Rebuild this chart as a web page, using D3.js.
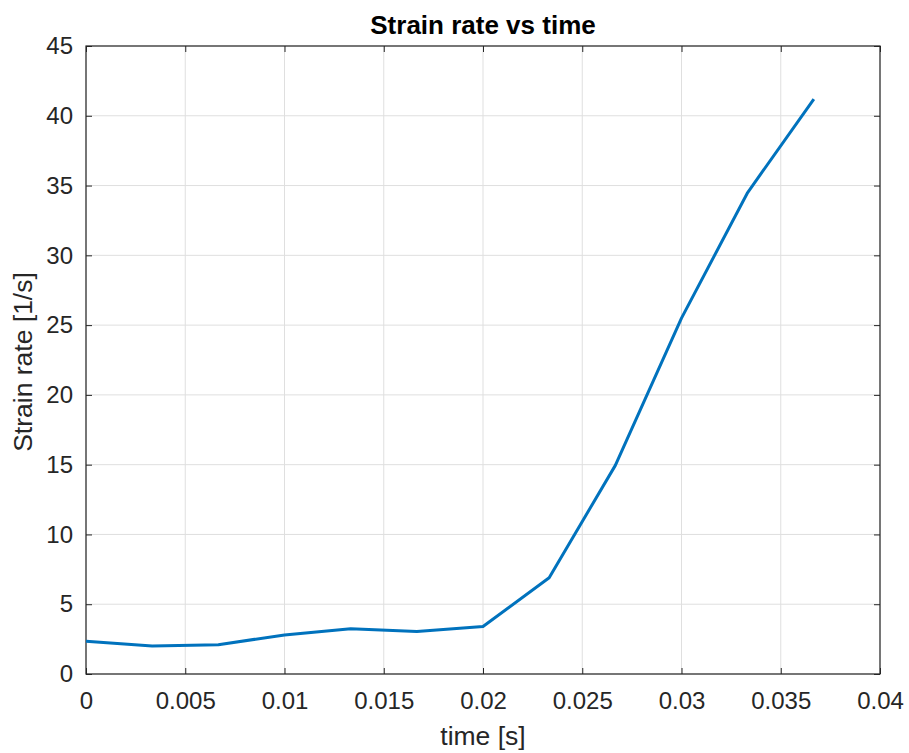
<!DOCTYPE html>
<html>
<head>
<meta charset="utf-8">
<script src="https://cdn.jsdelivr.net/npm/d3@7"></script>
<style>
  body { margin: 0; background: #fff; }
  text { font-family: "Liberation Sans", Arial, sans-serif; fill: #262626; }
</style>
</head>
<body>
<div id="chart"></div>
<script>
// time samples [s] and strain rate [1/s]
const times = [0, 0.003333, 0.006667, 0.01, 0.013333, 0.016667, 0.02, 0.023333, 0.026667, 0.03, 0.033333, 0.036667];
const strainRates = [2.35, 2.0, 2.1, 2.8, 3.25, 3.05, 3.4, 6.9, 14.95, 25.5, 34.5, 41.2];
const xTicks = [0, 0.005, 0.01, 0.015, 0.02, 0.025, 0.03, 0.035, 0.04];
const yTicks = [0, 5, 10, 15, 20, 25, 30, 35, 40, 45];

function drawStrainRate(containerId) {
  const W = 909, H = 753;
  const margin = { top: 46, right: 29, bottom: 79, left: 86 },
        width = W - margin.left - margin.right,
        height = H - margin.top - margin.bottom;

  const svg = d3.select(`#${containerId}`)
      .append("svg")
          .attr("width", W)
          .attr("height", H)
      .append("g")
          .attr("transform", `translate(${margin.left},${margin.top})`);

  const x = d3.scaleLinear().domain([0, 0.04]).range([0, width]);
  const y = d3.scaleLinear().domain([0, 45]).range([height, 0]);

  // grid
  svg.append("g")
      .selectAll("line")
      .data(xTicks)
      .join("line")
          .attr("x1", d => x(d)).attr("x2", d => x(d))
          .attr("y1", 0).attr("y2", height)
          .attr("stroke", "#dfdfdf").attr("stroke-width", 1);
  svg.append("g")
      .selectAll("line")
      .data(yTicks)
      .join("line")
          .attr("x1", 0).attr("x2", width)
          .attr("y1", d => y(d)).attr("y2", d => y(d))
          .attr("stroke", "#dfdfdf").attr("stroke-width", 1);

  const fmt = d => String(+d.toFixed(3));
  const tickLen = 6;

  // axes (ticks point inward, mirrored on top and right)
  const styleAxis = g => {
    g.select(".domain").remove();
    g.selectAll("line").attr("stroke", "#262626");
    g.selectAll("text").style("font-size", "24px").attr("fill", "#262626");
  };

  svg.append("g")
      .attr("transform", `translate(0,${height})`)
      .call(d3.axisBottom(x).tickValues(xTicks).tickFormat(fmt).tickSizeInner(-tickLen).tickPadding(18))
      .call(styleAxis);
  svg.append("g")
      .call(d3.axisTop(x).tickValues(xTicks).tickFormat("").tickSizeInner(-tickLen))
      .call(styleAxis);
  svg.append("g")
      .call(d3.axisLeft(y).tickValues(yTicks).tickFormat(fmt).tickSizeInner(-tickLen).tickPadding(13))
      .call(styleAxis);
  svg.append("g")
      .attr("transform", `translate(${width},0)`)
      .call(d3.axisRight(y).tickValues(yTicks).tickFormat("").tickSizeInner(-tickLen))
      .call(styleAxis);

  // box
  svg.append("rect")
      .attr("x", 0).attr("y", 0)
      .attr("width", width).attr("height", height)
      .attr("fill", "none")
      .attr("stroke", "#262626")
      .attr("stroke-width", 1.2);

  // line
  svg.append("path")
      .datum(times.map((t, i) => ({ t, v: strainRates[i] })))
      .attr("fill", "none")
      .attr("stroke", "#0072BD")
      .attr("stroke-width", 3)
      .attr("stroke-linejoin", "round")
      .attr("d", d3.line().x(d => x(d.t)).y(d => y(d.v)));

  // labels
  svg.append("text")
      .attr("x", width / 2)
      .attr("y", -12)
      .attr("text-anchor", "middle")
      .style("font-size", "26px")
      .style("font-weight", "bold")
      .style("fill", "#000")
      .text("Strain rate vs time");

  svg.append("text")
      .attr("x", width / 2)
      .attr("y", height + 71)
      .attr("text-anchor", "middle")
      .style("font-size", "26.5px")
      .text("time [s]");

  svg.append("text")
      .attr("transform", "rotate(-90)")
      .attr("x", -height / 2 - 2)
      .attr("y", -54)
      .attr("text-anchor", "middle")
      .style("font-size", "26.5px")
      .text("Strain rate [1/s]");
}

drawStrainRate("chart");
</script>
</body>
</html>
